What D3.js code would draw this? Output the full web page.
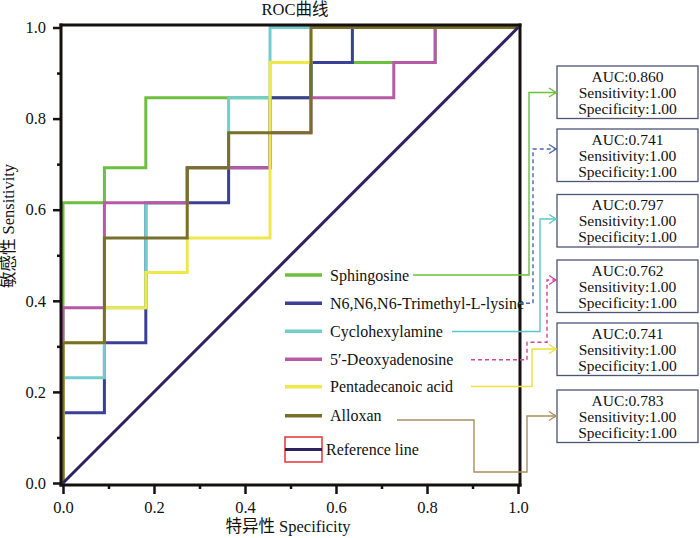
<!DOCTYPE html>
<html lang="en">
<head>
<meta charset="UTF-8">
<title>ROC曲线</title>
<script src="https://d3js.org/d3.v7.min.js"></script>
<style>
  body { margin: 0; background: #fff; }
  svg { display: block; }
  text { font-family: "Liberation Serif", "Noto Sans CJK SC", serif; fill: #111; }
</style>
</head>
<body>
<svg width="700" height="538"></svg>
<script>
// ---- data ----
const seriesNames = ["Sphingosine", "N6,N6,N6-Trimethyl-L-lysine", "Cyclohexylamine",
                     "5′-Deoxyadenosine", "Pentadecanoic acid", "Alloxan"];
const aucValues = [0.860, 0.741, 0.797, 0.762, 0.741, 0.783];
const sensitivityValues = [1.00, 1.00, 1.00, 1.00, 1.00, 1.00];
const specificityValues = [1.00, 1.00, 1.00, 1.00, 1.00, 1.00];
const tickValues = [0, 0.2, 0.4, 0.6, 0.8, 1.0];
const minorTickValues = [0.1, 0.3, 0.5, 0.7, 0.9];

const sphingosineX = [0, 0, 0.091, 0.091, 0.182, 0.182, 0.545, 0.545, 0.818, 0.818, 1];
const sphingosineY = [0, 0.615, 0.615, 0.692, 0.692, 0.846, 0.846, 0.923, 0.923, 1, 1];

const lysineX = [0, 0, 0.091, 0.091, 0.182, 0.182, 0.364, 0.364, 0.455, 0.455, 0.545, 0.545, 0.636, 0.636, 1];
const lysineY = [0, 0.154, 0.154, 0.308, 0.308, 0.615, 0.615, 0.692, 0.692, 0.846, 0.846, 0.923, 0.923, 1, 1];

const cyclohexylamineX = [0, 0, 0.091, 0.091, 0.182, 0.182, 0.273, 0.273, 0.364, 0.364, 0.455, 0.455, 1];
const cyclohexylamineY = [0, 0.231, 0.231, 0.385, 0.385, 0.615, 0.615, 0.692, 0.692, 0.846, 0.846, 1, 1];

const deoxyadenosineX = [0, 0, 0.091, 0.091, 0.273, 0.273, 0.455, 0.455, 0.545, 0.545, 0.727, 0.727, 0.818, 0.818, 1];
const deoxyadenosineY = [0, 0.385, 0.385, 0.615, 0.615, 0.692, 0.692, 0.769, 0.769, 0.846, 0.846, 0.923, 0.923, 1, 1];

const pentadecanoicX = [0, 0, 0.091, 0.091, 0.182, 0.182, 0.273, 0.273, 0.455, 0.455, 0.545, 0.545, 1];
const pentadecanoicY = [0, 0.308, 0.308, 0.385, 0.385, 0.462, 0.462, 0.538, 0.538, 0.923, 0.923, 1, 1];

const alloxanX = [0, 0, 0.091, 0.091, 0.273, 0.273, 0.364, 0.364, 0.545, 0.545, 1];
const alloxanY = [0, 0.308, 0.308, 0.538, 0.538, 0.692, 0.692, 0.769, 0.769, 1, 1];

const referenceX = [0, 1];
const referenceY = [0, 1];

// ---- styling ----
const colors = ["#6cbf3f", "#3c3f96", "#72cdcc", "#b65aa5", "#f0e84a", "#77702c"];
const connectorColors = ["#6cbf3f", "#4a68aa", "#5cc6c6", "#d2449a", "#ece13a", "#a8905e"];
const connectorDash = [null, "4,3", null, "4,3", null, null];
const refColor = "#2e2160";
const fontSize = "16px";

const curves = [
  [sphingosineX, sphingosineY], [lysineX, lysineY], [cyclohexylamineX, cyclohexylamineY],
  [deoxyadenosineX, deoxyadenosineY], [pentadecanoicX, pentadecanoicY], [alloxanX, alloxanY]
].map(([xs, ys]) => xs.map((v, i) => [v, ys[i]]));

const svg = d3.select("svg");
const x = d3.scaleLinear().domain([0, 1]).range([63, 518]);
const y = d3.scaleLinear().domain([0, 1]).range([483, 27.5]);
const line = d3.line().x(d => x(d[0])).y(d => y(d[1]));

// curves (legend order is also draw order)
curves.forEach((pts, i) => {
  svg.append("path").attr("d", line(pts))
    .attr("fill", "none").attr("stroke", colors[i]).attr("stroke-width", 3)
    .attr("stroke-linejoin", "miter").attr("stroke-linecap", "square");
});

svg.append("path").attr("d", line(referenceX.map((v, i) => [v, referenceY[i]])))
  .attr("fill", "none").attr("stroke", refColor).attr("stroke-width", 3);

// frame and axes
const axisColor = "#161010";
const frame = svg.append("g").attr("stroke", axisColor).attr("stroke-width", 3);
frame.append("line").attr("x1", 61).attr("x2", 61).attr("y1", 23.5).attr("y2", 486.5);
frame.append("line").attr("x1", 59.5).attr("x2", 521.5).attr("y1", 485).attr("y2", 485);
frame.append("line").attr("x1", 59.5).attr("x2", 521.5).attr("y1", 25).attr("y2", 25);
frame.append("line").attr("x1", 520).attr("x2", 520).attr("y1", 23.5).attr("y2", 486.5);

function styleAxis(g) {
  g.select(".domain").remove();
  g.selectAll(".tick line").attr("stroke", axisColor).attr("stroke-width", 2.5);
  g.selectAll(".tick text").attr("font-size", "16.5px").attr("fill", "#111")
    .attr("font-family", "Liberation Serif, serif");
}

svg.append("g").attr("transform", "translate(0,485)")
  .call(d3.axisBottom(x).tickValues(tickValues).tickFormat(d3.format(".1f")).tickSize(9).tickPadding(7))
  .call(styleAxis);
svg.append("g").attr("transform", "translate(0,485)")
  .call(d3.axisBottom(x).tickValues(minorTickValues).tickFormat("").tickSize(4))
  .call(styleAxis);
svg.append("g").attr("transform", "translate(61,0)")
  .call(d3.axisLeft(y).tickValues(tickValues).tickFormat(d3.format(".1f")).tickSize(8).tickPadding(7))
  .call(styleAxis);
svg.append("g").attr("transform", "translate(61,0)")
  .call(d3.axisLeft(y).tickValues(minorTickValues).tickFormat("").tickSize(4))
  .call(styleAxis);

// titles
svg.append("text").attr("x", 295).attr("y", 15).attr("text-anchor", "middle")
  .attr("font-size", "16.5px").text("ROC曲线");
svg.append("text").attr("x", 288).attr("y", 532).attr("text-anchor", "middle")
  .attr("font-size", "16.5px").text("特异性 Specificity");
svg.append("text").attr("transform", "translate(14,226) rotate(-90)").attr("text-anchor", "middle")
  .attr("font-size", "16.5px").text("敏感性 Sensitivity");

// legend
const legendY = [275, 303.3, 331.3, 359.3, 386.8, 415.8];
const legend = svg.append("g");
seriesNames.forEach((name, i) => {
  legend.append("line").attr("x1", 285).attr("x2", 322).attr("y1", legendY[i]).attr("y2", legendY[i])
    .attr("stroke", colors[i]).attr("stroke-width", 3.5);
  legend.append("text").attr("x", 330).attr("y", legendY[i] + 5.5)
    .attr("font-size", fontSize).text(name);
});
legend.append("rect").attr("x", 285).attr("y", 437).attr("width", 37).attr("height", 25)
  .attr("fill", "none").attr("stroke", "#e8403c").attr("stroke-width", 1.6);
legend.append("line").attr("x1", 285).attr("x2", 322).attr("y1", 449.5).attr("y2", 449.5)
  .attr("stroke", refColor).attr("stroke-width", 3);
legend.append("text").attr("x", 326).attr("y", 455).attr("font-size", fontSize).text("Reference line");

// AUC boxes
const boxX = 557, boxW = 141, boxH = 52.5;
const boxTop = [66, 129, 194.5, 260, 323, 390];
seriesNames.forEach((name, i) => {
  const g = svg.append("g");
  g.append("rect").attr("x", boxX).attr("y", boxTop[i]).attr("width", boxW).attr("height", boxH)
    .attr("fill", "#fff").attr("stroke", "#4d5475").attr("stroke-width", 1.3);
  const lines = ["AUC:" + aucValues[i].toFixed(3),
                 "Sensitivity:" + sensitivityValues[i].toFixed(2),
                 "Specificity:" + specificityValues[i].toFixed(2)];
  lines.forEach((t, k) => {
    g.append("text").attr("x", boxX + boxW / 2).attr("y", boxTop[i] + 15.5 + k * 16)
      .attr("text-anchor", "middle").attr("font-size", "15.5px").text(t);
  });
});

// connectors from legend labels to boxes
const connectors = [
  [[413, 275], [529, 275], [529, 92.5], [557, 92.5]],
  [[519, 303.3], [533, 303.3], [533, 149], [557, 149]],
  [[452, 331.5], [540, 331.5], [540, 219], [557, 219]],
  [[471, 359.8], [527, 359.8], [527, 342.3], [547, 342.3], [547, 280], [557, 280]],
  [[471, 386.5], [532, 386.5], [532, 349], [557, 349]],
  [[397, 420], [474, 420], [474, 472], [527, 472], [527, 416], [557, 416]]
];
connectors.forEach((pts, i) => {
  svg.append("path").attr("d", d3.line()(pts)).attr("fill", "none")
    .attr("stroke", connectorColors[i]).attr("stroke-width", 1.4)
    .attr("stroke-dasharray", connectorDash[i]);
  const [tx, ty] = pts[pts.length - 1];
  svg.append("path").attr("d", d3.line()([[tx - 8, ty - 4.5], [tx - 1, ty], [tx - 8, ty + 4.5]]))
    .attr("fill", "none").attr("stroke", connectorColors[i]).attr("stroke-width", 1.4);
});
</script>
</body>
</html>
